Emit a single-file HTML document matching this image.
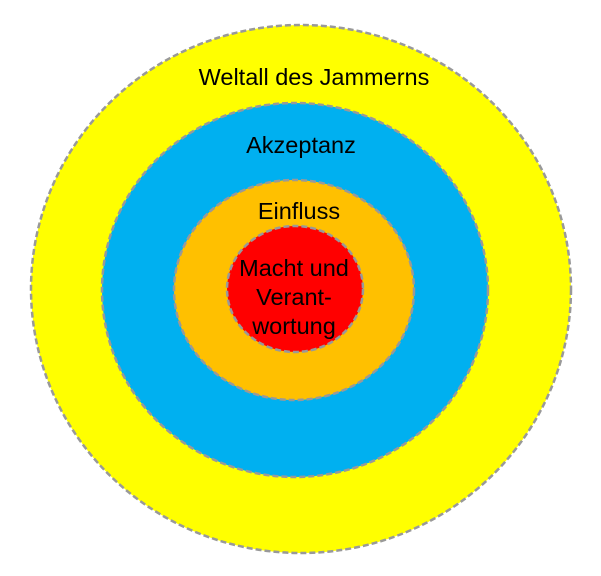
<!DOCTYPE html>
<html><head><meta charset="utf-8"><style>
html,body{margin:0;padding:0;background:#fff;}
svg{display:block;}
text{font-family:"Liberation Sans",sans-serif;font-size:23.5px;fill:#000;text-anchor:middle;}
</style></head><body>
<svg width="601" height="576" viewBox="0 0 601 576">
<g stroke="#999" stroke-width="2.5" stroke-dasharray="6,3">
<ellipse cx="301" cy="289" rx="270" ry="264" fill="#ffff00"/>
<ellipse cx="295" cy="290" rx="193" ry="187" fill="#00b0f0"/>
<ellipse cx="294" cy="290" rx="120" ry="110" fill="#ffc000"/>
<ellipse cx="295" cy="289" rx="68" ry="63" fill="#ff0000"/>
</g>
<text x="314" y="85">Weltall des Jammerns</text>
<text x="301" y="153">Akzeptanz</text>
<text x="299" y="219">Einfluss</text>
<text x="294" y="276">Macht und</text>
<text x="294" y="305">Verant-</text>
<text x="294" y="334">wortung</text>
</svg>
</body></html>
